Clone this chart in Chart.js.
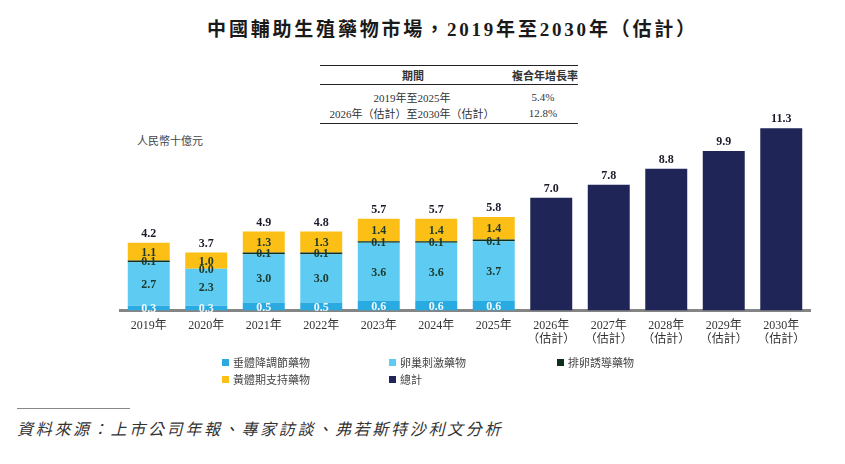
<!DOCTYPE html>
<html>
<head>
<meta charset="utf-8">
<script src="https://cdn.jsdelivr.net/npm/chart.js@4.4.0/dist/chart.umd.min.js"></script>
<style>
  body { margin: 0; width: 845px; height: 464px; background: #fff; position: relative; overflow: hidden;
         font-family: "Liberation Serif", "Noto Sans CJK TC", serif; color: #333; }
  .abs { position: absolute; white-space: nowrap; }
  #title { left: 30px; width: 845px; top: 14px; text-align: center; font-size: 19px; font-weight: bold; letter-spacing: 2.8px; color: #1a1a1a;
           font-family: "Liberation Serif", "Noto Sans CJK TC", serif; }
  .hline { position: absolute; height: 1px; background: #222; }
  .tbl { font-size: 11px; transform: translate(-50%, -50%); }
  .hdr { font-family: "Noto Sans CJK TC", sans-serif; font-weight: bold; }
  #unit { left: 137px; top: 132px; font-size: 11px; font-family: "Noto Sans CJK TC", sans-serif; color: #444; }
  #chartBox { position: absolute; left: 0; top: 100px; width: 845px; height: 260px; }
  .leg { font-size: 11px; font-family: "Noto Sans CJK TC", sans-serif; color: #444; transform: translateY(-50%); }
  .leg i { display: inline-block; width: 7px; height: 7px; margin-right: 4px; vertical-align: 1px; }
  #src { left: 17px; top: 416px; font-size: 16px; font-style: italic; letter-spacing: 2.7px; color: #333;
         font-family: "Noto Sans CJK TC", sans-serif; }
</style>
</head>
<body>
<div id="title" class="abs">中國輔助生殖藥物市場，2019年至2030年（估計）</div>

<div class="hline" style="left:320px; width:258px; top:65px;"></div>
<div class="abs tbl hdr" style="left:413px; top:75px;">期間</div>
<div class="abs tbl hdr" style="left:545px; top:75px;">複合年增長率</div>
<div class="hline" style="left:320px; width:258px; top:84px;"></div>
<div class="abs tbl" style="left:412px; top:97px;">2019年至2025年</div>
<div class="abs tbl" style="left:543px; top:97px;">5.4%</div>
<div class="abs tbl" style="left:412px; top:113px;">2026年（估計）至2030年（估計）</div>
<div class="abs tbl" style="left:543px; top:113px;">12.8%</div>
<div class="hline" style="left:320px; width:258px; top:123px;"></div>

<div id="unit" class="abs">人民幣十億元</div>

<div id="chartBox"><canvas id="marketChart"></canvas></div>

<div id="legend"></div>

<div class="hline" style="left:17px; width:113px; top:408px; background:#888;"></div>
<div id="src" class="abs">資料來源：上市公司年報、專家訪談、弗若斯特沙利文分析</div>

<script>
// 數據
const labels = ['2019年', '2020年', '2021年', '2022年', '2023年', '2024年', '2025年',
    ['2026年', '（估計）'], ['2027年', '（估計）'], ['2028年', '（估計）'], ['2029年', '（估計）'], ['2030年', '（估計）']];
const pituitary = [0.3, 0.3, 0.5, 0.5, 0.6, 0.6, 0.6, null, null, null, null, null];
const ovarian   = [2.7, 2.3, 3.0, 3.0, 3.6, 3.6, 3.7, null, null, null, null, null];
const ovulation = [0.1, 0.0, 0.1, 0.1, 0.1, 0.1, 0.1, null, null, null, null, null];
const luteal    = [1.1, 1.0, 1.3, 1.3, 1.4, 1.4, 1.4, null, null, null, null, null];
const totals    = [4.2, 3.7, 4.9, 4.8, 5.7, 5.7, 5.8, 7.0, 7.8, 8.8, 9.9, 11.3];
const firstForecast = 7; // 2026年起只畫總計

const seriesNames = ['垂體降調節藥物', '卵巢刺激藥物', '排卵誘導藥物', '黃體期支持藥物', '總計'];
const colors = ['#29abe2', '#5ecbf3', '#0e2f1c', '#fbbf16', '#1f2557'];
const labelColors = ['#eef8fd', '#1c3a2b', '#1c3a2b', '#1c3a2b'];

const totalBars = totals.map((v, i) => i >= firstForecast ? v : null);

// 圖例 (HTML)
const legendPos = [[222, 362], [389, 362], [557, 362], [222, 379], [389, 379]];
const legendEl = document.getElementById('legend');
seriesNames.forEach((name, i) => {
    const d = document.createElement('div');
    d.className = 'abs leg';
    d.style.left = legendPos[i][0] + 'px';
    d.style.top = legendPos[i][1] + 'px';
    d.innerHTML = `<i style="background:${colors[i]}"></i>${name}`;
    legendEl.appendChild(d);
});

// 數值標籤
const valueLabels = {
    id: 'valueLabels',
    afterDatasetsDraw(chart) {
        const ctx = chart.ctx;
        ctx.save();
        ctx.font = 'bold 12px "Liberation Serif"';
        ctx.textAlign = 'center';
        ctx.textBaseline = 'middle';
        // 分段標籤
        for (let d = 0; d < 4; d++) {
            const meta = chart.getDatasetMeta(d);
            const vals = chart.data.datasets[d].data;
            meta.data.forEach((bar, i) => {
                if (vals[i] === null) return;
                ctx.fillStyle = labelColors[d];
                ctx.fillText(vals[i].toFixed(1), bar.x, (bar.y + bar.base) / 2 + 1);
            });
        }
        // 總計標籤
        totals.forEach((v, i) => {
            let top = Infinity, x = 0;
            chart.data.datasets.forEach((ds, d) => {
                if (ds.data[i] === null) return;
                const bar = chart.getDatasetMeta(d).data[i];
                top = Math.min(top, bar.y);
                x = bar.x;
            });
            ctx.fillStyle = '#1a1a2a';
            ctx.fillText(v.toFixed(1), x, top - 9);
        });
        ctx.restore();
    }
};

const datasets = [pituitary, ovarian, ovulation, luteal, totalBars].map((data, i) => ({
    label: seriesNames[i],
    data: data,
    backgroundColor: colors[i],
    stack: 'market',
    barPercentage: 0.73,
    categoryPercentage: 1.0
}));

new Chart(document.getElementById('marketChart'), {
    type: 'bar',
    data: { labels: labels, datasets: datasets },
    plugins: [valueLabels],
    options: {
        responsive: true,
        maintainAspectRatio: false,
        animation: false,
        layout: { padding: { left: 120, right: 35, top: 17, bottom: 5 } },
        plugins: { legend: { display: false }, tooltip: { enabled: false } },
        scales: {
            x: {
                stacked: true,
                grid: { display: false, drawTicks: false },
                border: { display: true, color: '#858585', width: 3 },
                ticks: {
                    padding: 9,
                    color: '#333',
                    font: { family: '"Liberation Serif", "Noto Sans CJK TC"', size: 12, lineHeight: 1.1 }
                }
            },
            y: {
                stacked: true,
                display: false,
                min: 0,
                max: 12
            }
        }
    }
});
</script>
</body>
</html>
